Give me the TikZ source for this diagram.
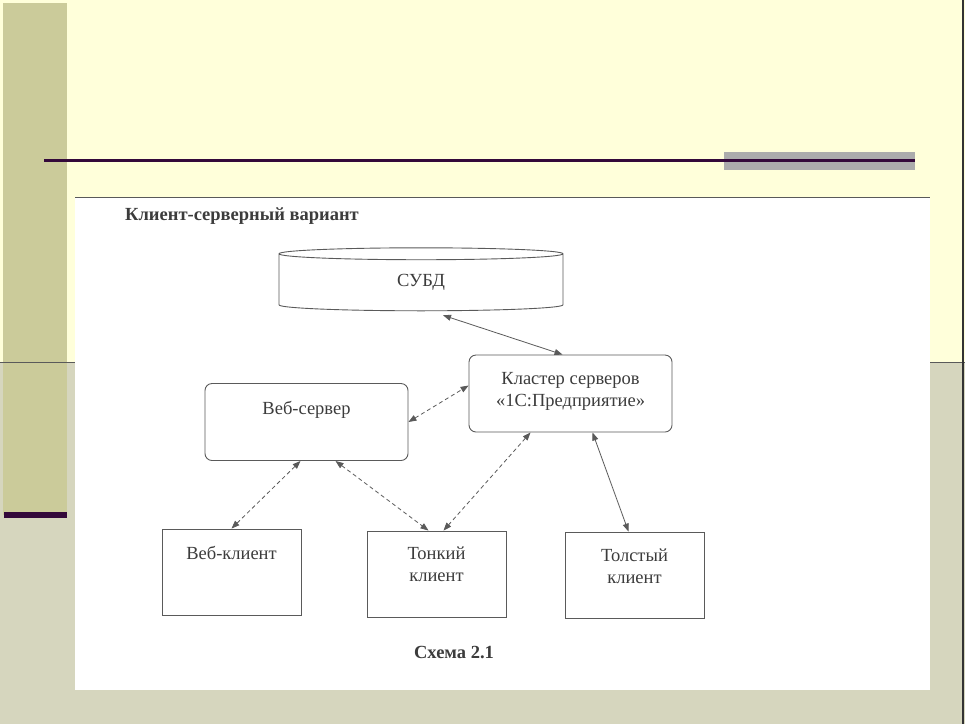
\documentclass[tikz,border=0pt]{standalone}
\usepackage{fontspec}
\setmainfont{Liberation Serif}
\usetikzlibrary{arrows.meta,shapes.geometric}

\definecolor{paper}{HTML}{FFFFDA}
\definecolor{khaki}{HTML}{CBCB9A}
\definecolor{lowpaper}{HTML}{D6D6BE}
\definecolor{plum}{HTML}{34093A}
\definecolor{ink}{HTML}{3C3C3C}
\definecolor{wire}{HTML}{5A5A5A}

\begin{document}
\begin{tikzpicture}[
        x=1pt, y=-1pt,
        box/.style={draw=wire, line width=0.9pt, minimum width=203pt, minimum height=77pt, inner sep=0pt},
        rbox/.style={box, rounded corners=7pt},
        sbox/.style={box, minimum width=139pt, minimum height=86pt},
        db/.style={draw=wire, line width=0.9pt, cylinder, shape border rotate=90, aspect=0.25,
            minimum width=284pt, minimum height=63pt, inner sep=0pt, text=ink, font=\fontsize{18.5}{18.5}\selectfont},
        txt/.style={text=ink, align=center, font=\fontsize{18.5}{22}\selectfont, inner sep=0pt},
        solidlink/.style={draw=wire, line width=0.8pt, <->},
        dashlink/.style={solidlink, dash pattern=on 4pt off 3pt},
        >={Triangle[length=8pt, width=6pt]}]

        % --- slide background ---
        \useasboundingbox (0,0) rectangle (965,724);
        \fill[paper] (0,0) rectangle (965,724);
        \fill[lowpaper] (0,362) rectangle (965,724);
        \fill[khaki] (3,3) rectangle (67,515);
        \fill[plum] (4,512) rectangle (67,518);
        \draw[wire, line width=0.8pt] (0,362) -- (965,362);
        \draw[black!80, line width=1.5pt] (963,0) -- (963,724);
        \fill[gray!65] (724,152) rectangle (915,170);
        \draw[plum, line width=3pt] (44,160) -- (915,160);

        % --- white sheet ---
        \fill[white] (75,197) rectangle (930,690);
        \draw[gray!70!black, line width=1pt] (75,197) -- (930,197);
        \node[txt, anchor=west, font=\bfseries\fontsize{18.5}{18.5}\selectfont] (title) at (125,216) {Клиент-серверный вариант};

        % --- DBMS and servers ---
        \node[db] (dbms) at (421,282.5) {СУБД};
        \node[rbox] (websrv) at (306.5,422) {};
        \node[txt] (websrv-t) at (306.5,410) {Веб-сервер};
        \node[rbox] (cluster) at (570.5,393.5) {};
        \node[txt] (cluster-t) at (570.5,391) {Кластер серверов\\«1С:Предприятие»};

        % --- clients ---
        \node[sbox] (webcl) at (231.5,572) {};
        \node[txt] (webcl-t) at (231.5,553) {Веб-клиент};
        \node[sbox] (thin) at (436.5,574) {};
        \node[txt] (thin-t) at (436.5,564) {Тонкий\\клиент};
        \node[sbox] (thick) at (634.5,575) {};
        \node[txt] (thick-t) at (634.5,566) {Толстый\\клиент};

        \node[txt, font=\bfseries\fontsize{18.5}{18.5}\selectfont] (caption) at (454,652) {Схема 2.1};

        % --- links ---
        \draw[solidlink] ([xshift=22pt, yshift=-4pt]dbms.south) -- ([xshift=-8pt]cluster.north);
        \draw[dashlink] (websrv.east) -- ([yshift=8pt]cluster.west);
        \draw[dashlink] ([xshift=-6pt]websrv.south) -- (webcl.north);
        \draw[dashlink] ([xshift=29pt]websrv.south) -- ([xshift=-8pt]thin.north);
        \draw[dashlink] ([xshift=-40pt]cluster.south) -- ([xshift=7pt]thin.north);
        \draw[solidlink] ([xshift=22pt]cluster.south) -- ([xshift=-6pt]thick.north);

    \end{tikzpicture}
\end{document}
